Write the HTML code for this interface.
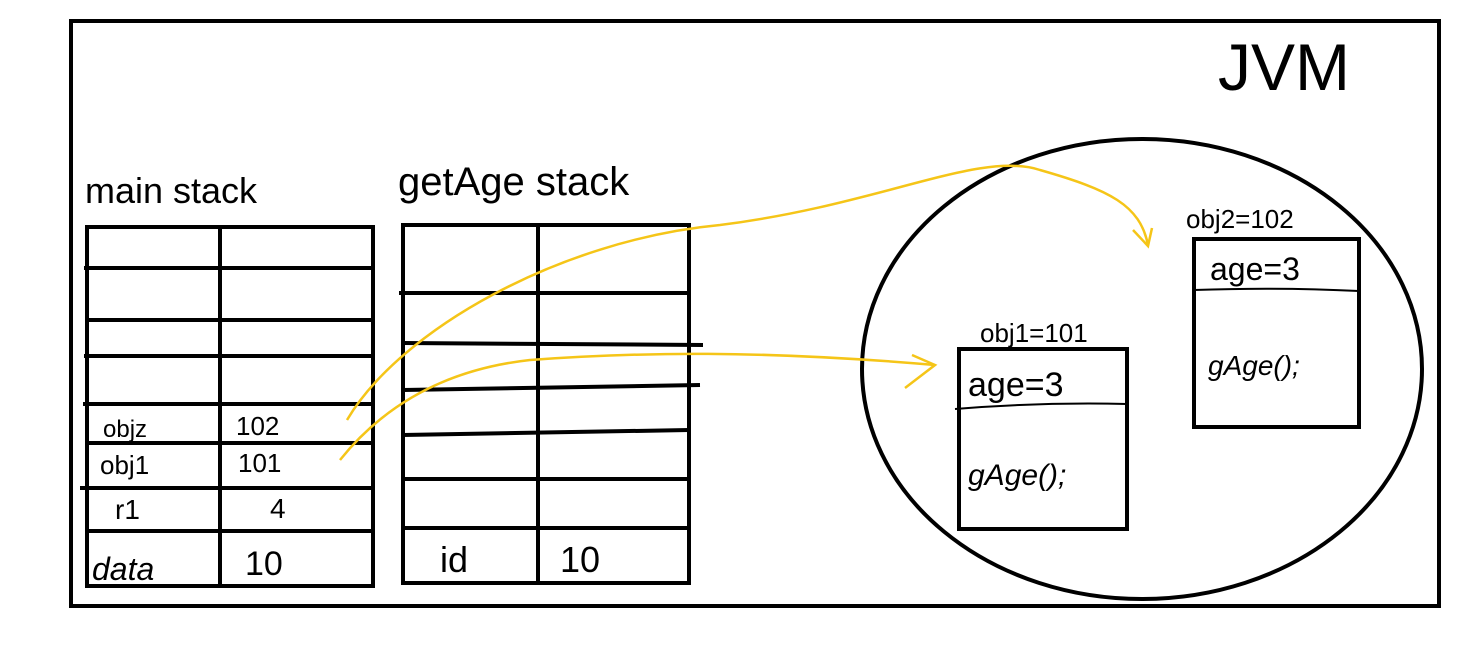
<!DOCTYPE html>
<html><head><meta charset="utf-8"><style>
html,body{margin:0;padding:0;background:#fff;}
svg{display:block;}
text{font-family:"Liberation Sans",sans-serif;fill:#000;}
</style></head><body>
<svg width="1473" height="647" viewBox="0 0 1473 647">
<rect x="71" y="21" width="1368" height="585" fill="none" stroke="#000" stroke-width="4"/>
<text x="1218" y="90" font-size="66">JVM</text>

<g>
<text x="85" y="203" font-size="36">main stack</text>
<rect x="87" y="227" width="286" height="359" fill="none" stroke="#000" stroke-width="4"/>
<line x1="220" y1="227" x2="220" y2="586" stroke="#000" stroke-width="4"/>
<line x1="84" y1="268" x2="373" y2="268" stroke="#000" stroke-width="4"/>
<line x1="87" y1="320" x2="373" y2="320" stroke="#000" stroke-width="4"/>
<line x1="84" y1="356" x2="373" y2="356" stroke="#000" stroke-width="4"/>
<line x1="83" y1="404" x2="373" y2="404" stroke="#000" stroke-width="4"/>
<line x1="87" y1="443" x2="373" y2="443" stroke="#000" stroke-width="4"/>
<line x1="80" y1="488" x2="373" y2="488" stroke="#000" stroke-width="4"/>
<line x1="87" y1="531" x2="373" y2="531" stroke="#000" stroke-width="4"/>
<text x="103" y="437" font-size="24">objz</text>
<text x="236" y="435" font-size="26">102</text>
<text x="100" y="474" font-size="26">obj1</text>
<text x="238" y="472" font-size="26">101</text>
<text x="115" y="519" font-size="28">r1</text>
<text x="270" y="518" font-size="28">4</text>
<text x="92" y="580" font-size="32" font-style="italic">data</text>
<text x="245" y="575" font-size="34">10</text>
</g>

<g>
<text x="398" y="195" font-size="40">getAge stack</text>
<rect x="403" y="225" width="286" height="358" fill="none" stroke="#000" stroke-width="4"/>
<line x1="538" y1="225" x2="538" y2="583" stroke="#000" stroke-width="4"/>
<line x1="399" y1="293" x2="689" y2="293" stroke="#000" stroke-width="4"/>
<line x1="403" y1="343" x2="703" y2="345" stroke="#000" stroke-width="4"/>
<line x1="403" y1="390" x2="700" y2="385" stroke="#000" stroke-width="4"/>
<line x1="403" y1="435" x2="689" y2="430" stroke="#000" stroke-width="4"/>
<line x1="403" y1="479" x2="689" y2="479" stroke="#000" stroke-width="4"/>
<line x1="403" y1="528" x2="689" y2="528" stroke="#000" stroke-width="4"/>
<text x="440" y="572" font-size="36">id</text>
<text x="560" y="572" font-size="36">10</text>
</g>

<ellipse cx="1142" cy="369" rx="280" ry="230" fill="none" stroke="#000" stroke-width="4"/>

<g>
<text x="980" y="342" font-size="26">obj1=101</text>
<rect x="959" y="349" width="168" height="180" fill="none" stroke="#000" stroke-width="4"/>
<path d="M955 409 Q1040 402 1127 404" fill="none" stroke="#000" stroke-width="2"/>
<text x="968" y="396" font-size="34">age=3</text>
<text x="968" y="485" font-size="30" font-style="italic">gAge();</text>
</g>

<g>
<text x="1186" y="228" font-size="26">obj2=102</text>
<rect x="1194" y="239" width="165" height="188" fill="none" stroke="#000" stroke-width="4"/>
<path d="M1194 290 Q1280 287 1359 291" fill="none" stroke="#000" stroke-width="2"/>
<text x="1210" y="280" font-size="32">age=3</text>
<text x="1208" y="375" font-size="28" font-style="italic">gAge();</text>
</g>

<g fill="none" stroke="#f5c518" stroke-width="2.5">
<path d="M347 420 C400 330 560 240 720 225 C880 205 980 150 1040 170 C1110 190 1140 205 1148 245"/>
<path d="M1133 230 L1148 246 L1152 228"/>
<path d="M340 460 C380 410 440 370 530 360 C640 352 760 350 935 365"/>
<path d="M912 355 L935 365 L905 388"/>
</g>
</svg>
</body></html>
